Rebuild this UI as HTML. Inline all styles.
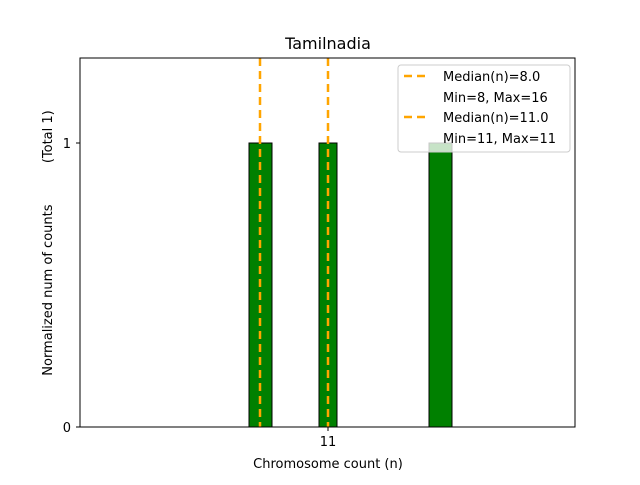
<!DOCTYPE html>
<html><head><style>body{margin:0;background:#fff}</style></head><body>
<svg width="640" height="480" xmlns="http://www.w3.org/2000/svg" font-family="DejaVu Sans, Liberation Sans, sans-serif">
<rect width="640" height="480" fill="#fff"/>
<text x="328" y="49" font-size="16" text-anchor="middle">Tamilnadia</text>
<line x1="80" y1="427" x2="520" y2="427" stroke="#888" stroke-width="1"/>
<rect x="249" y="143" width="23" height="284" fill="#008000" stroke="#000" stroke-width="1"/>
<rect x="319" y="143" width="18" height="284" fill="#008000" stroke="#000" stroke-width="1"/>
<rect x="429" y="143" width="23" height="284" fill="#008000" stroke="#000" stroke-width="1"/>
<line x1="260" y1="58" x2="260" y2="427" stroke="#FFA500" stroke-width="2.5" stroke-dasharray="8,5"/>
<line x1="328" y1="58" x2="328" y2="427" stroke="#FFA500" stroke-width="2.5" stroke-dasharray="8,5"/>
<rect x="80" y="58" width="495" height="369" fill="none" stroke="#000" stroke-width="1"/>
<rect x="398" y="65" width="172" height="87" rx="3" fill="#fff" fill-opacity="0.78" stroke="#ccc" stroke-width="1"/>
<line x1="404" y1="76" x2="430" y2="76" stroke="#FFA500" stroke-width="2.5" stroke-dasharray="8,5"/>
<line x1="404" y1="117" x2="430" y2="117" stroke="#FFA500" stroke-width="2.5" stroke-dasharray="8,5"/>
<g font-size="13" fill="#000">
<text x="443" y="81">Median(n)=8.0</text>
<text x="443" y="102">Min=8, Max=16</text>
<text x="443" y="122">Median(n)=11.0</text>
<text x="443" y="143">Min=11, Max=11</text>
</g>
<line x1="76" y1="143" x2="80" y2="143" stroke="#000"/>
<line x1="76" y1="427" x2="80" y2="427" stroke="#000"/>
<line x1="328" y1="427" x2="328" y2="431" stroke="#000"/>
<g font-size="13" fill="#000">
<text x="71" y="148" text-anchor="end">1</text>
<text x="71" y="432" text-anchor="end">0</text>
<text x="328" y="446" text-anchor="middle">11</text>
<text x="328" y="468" text-anchor="middle">Chromosome count (n)</text>
<text transform="translate(52,243) rotate(-90)" text-anchor="middle" xml:space="preserve" style="white-space:pre">Normalized num of counts          (Total 1)</text>
</g>
</svg>
</body></html>
